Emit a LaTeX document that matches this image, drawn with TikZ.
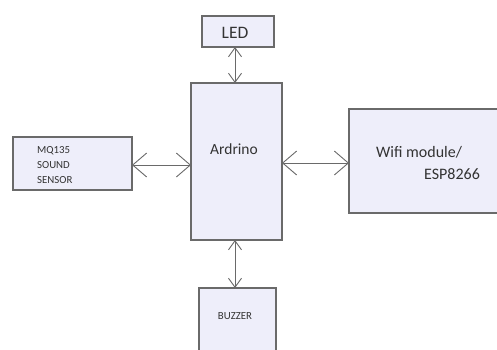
\documentclass[tikz,border=0pt]{standalone}
\usepackage{fontspec}
\setmainfont{Carlito}
\usetikzlibrary{arrows.meta}
\definecolor{boxfill}{HTML}{EEEEFA}
\definecolor{boxline}{HTML}{6A6A6A}
\definecolor{txt}{HTML}{333333}
\tikzset{
  blk/.style={draw=boxline, fill=boxfill, line width=1.1pt, inner sep=0pt},
  lbl/.style={text=txt, inner sep=0pt},
  bigarr/.style={draw=boxline, line width=0.9pt, {Straight Barb[length=14pt,width=24pt]}-{Straight Barb[length=14pt,width=24pt]}},
  smallarr/.style={draw=boxline, line width=0.9pt, {Straight Barb[length=9pt,width=13pt]}-{Straight Barb[length=9pt,width=13pt]}},
}
\begin{document}
\begin{tikzpicture}[x=1pt,y=-1pt]
\useasboundingbox (0,0) rectangle (497,349);
\clip (0,0) rectangle (497,349);
\fill[white] (0,0) rectangle (497,349);
% boxes
\node[blk, minimum width=72pt, minimum height=31pt] (led) at (238,31.5) {};
\node[blk, minimum width=91pt, minimum height=157pt] (ard) at (236.5,161.5) {};
\node[blk, minimum width=119pt, minimum height=53pt] (mq) at (72.5,163.5) {};
\node[blk, minimum width=160pt, minimum height=104pt] (wifi) at (429,161) {};
\node[blk, minimum width=77pt, minimum height=80pt] (buz) at (237.5,328) {};
% texts
\node[lbl, font=\fontsize{17.5}{20}\selectfont] (tled) at (235,33) {LED};
\node[lbl, font=\fontsize{15.5}{18}\selectfont] (tard) at (234,149) {Ardrino};
\node[lbl, font=\fontsize{10.8}{15}\selectfont, align=left, anchor=west] (tmq) at (37,165) {MQ135\\SOUND\\SENSOR};
\node[lbl, font=\fontsize{16}{20}\selectfont, anchor=west] (twifi1) at (376,152) {Wifi module/};
\node[lbl, font=\fontsize{16}{20}\selectfont, anchor=west] (twifi2) at (424,174) {ESP8266};
\node[lbl, font=\fontsize{10.8}{13}\selectfont] (tbuz) at (235,316) {BUZZER};
% connectors
\coordinate (ledb) at (235,47);
\coordinate (ardt) at (235,83);
\coordinate (ardb) at (235,240);
\coordinate (buzt) at (235,288);
\coordinate (mqr) at (132,165);
\coordinate (ardl) at (191,165);
\coordinate (ardr) at (282,163);
\coordinate (wifil) at (349,163);
\draw[smallarr] (ledb) -- (ardt);
\draw[smallarr] (ardb) -- (buzt);
\draw[bigarr] (mqr) -- (ardl);
\draw[bigarr] (ardr) -- (wifil);
\end{tikzpicture}
\end{document}
